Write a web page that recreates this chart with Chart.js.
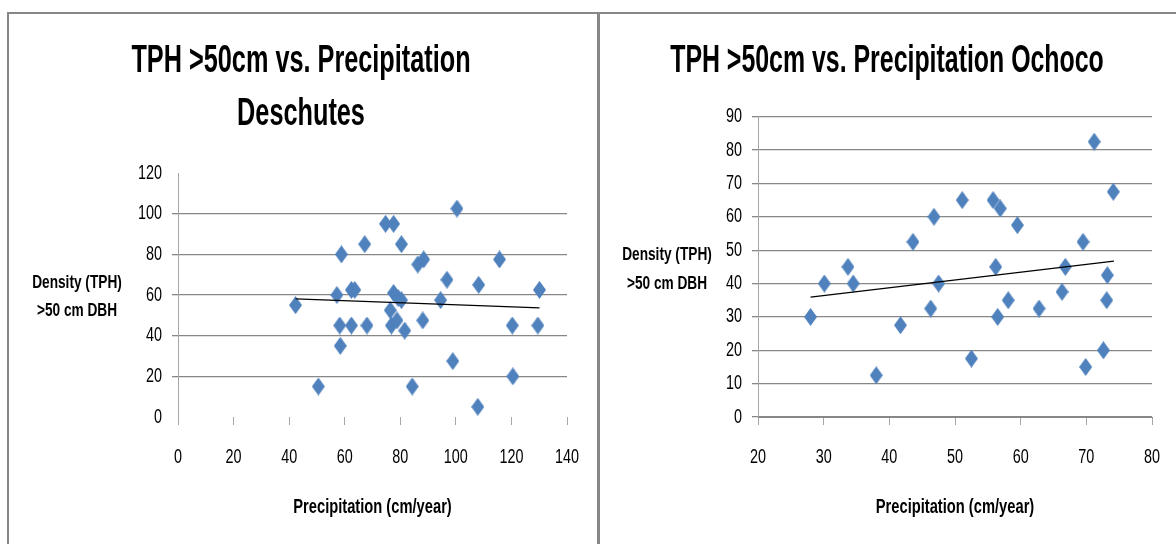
<!DOCTYPE html>
<html>
<head>
<meta charset="utf-8">
<script src="https://cdn.jsdelivr.net/npm/chart.js@4.4.1/dist/chart.umd.min.js"></script>
<style>
  body { margin: 0; background: #fff; width: 1176px; height: 544px; position: relative; overflow: hidden; }
  .frame { position: absolute; background: #878787; }
  canvas { position: absolute; }
</style>
</head>
<body>
<div class="frame" style="left:7px; top:12px; width:1169px; height:2px;"></div>
<div class="frame" style="left:7px; top:12px; width:2px; height:532px;"></div>
<div class="frame" style="left:597px; top:12px; width:3px; height:532px;"></div>
<canvas id="grafDeschutes" width="588" height="530" style="left:9px; top:14px;"></canvas>
<canvas id="grafOchoco" width="576" height="530" style="left:600px; top:14px;"></canvas>
<script>
// Deschutes
const deschutesPrecip = [42.3, 50.5, 57.2, 58.2, 58.4, 58.8, 62.4, 63.6, 62.4, 67.2, 68, 74.7, 77.6, 76.4, 76.8, 77.6, 78.8, 79.2, 80.4, 80.4, 81.6, 84.3, 86.3, 88.4, 88.1, 94.5, 96.8, 98.9, 100.4, 107.9, 108.2, 115.7, 120.3, 120.5, 129.5, 130.1]
const deschutesTPH = [55, 15, 60, 45, 35, 80, 62.5, 62.5, 45, 85, 45, 95, 95, 52.5, 45, 61, 47.5, 58.5, 57.5, 85, 42.5, 15, 75, 77.5, 47.5, 57.5, 67.5, 27.5, 102.5, 5, 65, 77.5, 45, 20, 45, 62.5]
const deschutesTrendX = [42.3, 130.1]
const deschutesTrendY = [58.1, 53.7]
const deschutesTicksX = [0, 20, 40, 60, 80, 100, 120, 140]
const deschutesTicksY = [0, 20, 40, 60, 80, 100, 120]

// Ochoco
const ochocoPrecip = [28, 30.1, 33.7, 34.5, 38, 41.7, 43.6, 46.3, 46.8, 47.5, 51.1, 52.5, 55.8, 56.2, 56.5, 56.9, 58.1, 59.5, 62.8, 66.3, 66.8, 69.5, 69.9, 71.2, 72.6, 73.1, 73.2, 74.1]
const ochocoTPH = [30, 40, 45, 40, 12.5, 27.5, 52.5, 32.5, 60, 40, 65, 17.5, 65, 45, 30, 62.5, 35, 57.5, 32.5, 37.5, 45, 52.5, 15, 82.5, 20, 35, 42.5, 67.5]
const ochocoTrendX = [28, 74.2]
const ochocoTrendY = [35.9, 46.7]
const ochocoTicksX = [20, 30, 40, 50, 60, 70, 80]
const ochocoTicksY = [0, 10, 20, 30, 40, 50, 60, 70, 80, 90]

const tituloY = ['Density (TPH)', '>50 cm DBH']
const tituloX = 'Precipitation (cm/year)'

const fonte = "'Liberation Sans', Arial, sans-serif"
const azul = '#4F81BD'
const cinzaGrade = '#878787'
const cinzaEixo = '#a6a6a6'

// losango mais alto que largo, como no Excel
function criarLosango() {
    const c = document.createElement('canvas')
    c.width = 13
    c.height = 18
    const ctx = c.getContext('2d')
    ctx.fillStyle = azul
    ctx.beginPath()
    ctx.moveTo(6.5, 0)
    ctx.lineTo(13, 9)
    ctx.lineTo(6.5, 18)
    ctx.lineTo(0, 9)
    ctx.closePath()
    ctx.fill()
    return c
}
const losango = criarLosango()

function pontos(xs, ys) {
    return xs.map((x, i) => ({ x: x, y: ys[i] }))
}

// texto estreito (a fonte original e tipo Calibri condensada)
function textoEstreito(ctx, txt, x, y, font, k, align) {
    ctx.save()
    ctx.font = font
    ctx.fillStyle = '#000'
    ctx.textAlign = align || 'center'
    ctx.textBaseline = 'middle'
    ctx.translate(x, y)
    ctx.scale(k, 1)
    ctx.fillText(txt, 0, 0)
    ctx.restore()
}

// titulos e rotulos desenhados na horizontal
const textos = {
    id: 'textos',
    afterDraw(chart, args, opts) {
        const ctx = chart.ctx
        const area = chart.chartArea
        const sx = chart.scales.x
        const sy = chart.scales.y

        opts.titulo.forEach((t, i) => {
            textoEstreito(ctx, t, opts.tituloX, 48 + i * 53, 'bold 38px ' + fonte, opts.kTitulo)
        })

        opts.ticksY.forEach(v => {
            textoEstreito(ctx, String(v), area.left - 16, sy.getPixelForValue(v), '20px ' + fonte, 0.72, 'right')
        })
        opts.ticksX.forEach(v => {
            textoEstreito(ctx, String(v), sx.getPixelForValue(v), area.bottom + 40, '20px ' + fonte, 0.72)
        })

        textoEstreito(ctx, tituloX, (area.left + area.right) / 2, area.bottom + 90, 'bold 20px ' + fonte, 0.735)

        tituloY.forEach((t, i) => {
            textoEstreito(ctx, t, opts.tituloYx, opts.tituloYy + i * 28.5, 'bold 19px ' + fonte, 0.72)
        })
    }
}

function plotarGrafico(canvasId, cfg) {
    new Chart(document.getElementById(canvasId), {
        type: 'scatter',
        data: {
            datasets: [{
                data: pontos(cfg.xs, cfg.ys),
                pointStyle: losango,
                pointRadius: 9,
                pointHoverRadius: 9,
                backgroundColor: azul,
                borderColor: azul,
                order: 2
            }, {
                data: pontos(cfg.trendX, cfg.trendY),
                showLine: true,
                pointRadius: 0,
                borderColor: '#000',
                borderWidth: 1.2,
                order: 1
            }]
        },
        options: {
            responsive: false,
            animation: false,
            events: [],
            layout: { padding: { left: 0, right: cfg.padDir, top: cfg.padTopo, bottom: 0 } },
            plugins: {
                legend: { display: false },
                tooltip: { enabled: false },
                title: { display: false },
                textos: {
                    titulo: cfg.titulo, tituloX: cfg.centroTitulo, kTitulo: cfg.kTitulo,
                    ticksX: cfg.ticksX, ticksY: cfg.ticksY,
                    tituloYx: cfg.tituloYx, tituloYy: cfg.tituloYy
                }
            },
            scales: {
                x: {
                    type: 'linear',
                    min: cfg.ticksX[0],
                    max: cfg.ticksX[cfg.ticksX.length - 1],
                    afterBuildTicks: s => { s.ticks = cfg.ticksX.map(v => ({ value: v })) },
                    afterFit: s => { s.height = 127 },
                    border: { display: cfg.bordaX, color: cinzaGrade, width: 1 },
                    grid: { drawOnChartArea: false, drawTicks: true, tickLength: 8, tickColor: cinzaEixo },
                    ticks: { display: false }
                },
                y: {
                    type: 'linear',
                    min: cfg.ticksY[0],
                    max: cfg.ticksY[cfg.ticksY.length - 1],
                    afterBuildTicks: s => { s.ticks = cfg.ticksY.map(v => ({ value: v })) },
                    afterFit: s => { s.width = cfg.larguraY },
                    border: { display: true, color: cinzaEixo, width: 1 },
                    grid: {
                        color: ctx => cfg.gradeOculta.includes(ctx.tick && ctx.tick.value) ? 'rgba(0,0,0,0)' : cinzaGrade,
                        tickLength: 6,
                        lineWidth: 1.3
                    },
                    ticks: { display: false }
                }
            }
        },
        plugins: [textos]
    })
}

plotarGrafico('grafDeschutes', {
    xs: deschutesPrecip, ys: deschutesTPH,
    trendX: deschutesTrendX, trendY: deschutesTrendY,
    ticksX: deschutesTicksX, ticksY: deschutesTicksY,
    titulo: ['TPH >50cm vs. Precipitation', 'Deschutes'], centroTitulo: 292, kTitulo: 0.665,
    padTopo: 159, padDir: 30, larguraY: 169,
    bordaX: false, gradeOculta: [0, 120],
    tituloYx: 68, tituloYy: 268.5
})

plotarGrafico('grafOchoco', {
    xs: ochocoPrecip, ys: ochocoTPH,
    trendX: ochocoTrendX, trendY: ochocoTrendY,
    ticksX: ochocoTicksX, ticksY: ochocoTicksY,
    titulo: ['TPH >50cm vs. Precipitation Ochoco'], centroTitulo: 287, kTitulo: 0.655,
    padTopo: 102.7, padDir: 24, larguraY: 158,
    bordaX: true, gradeOculta: [],
    tituloYx: 67, tituloYy: 241
})
</script>
</body>
</html>
